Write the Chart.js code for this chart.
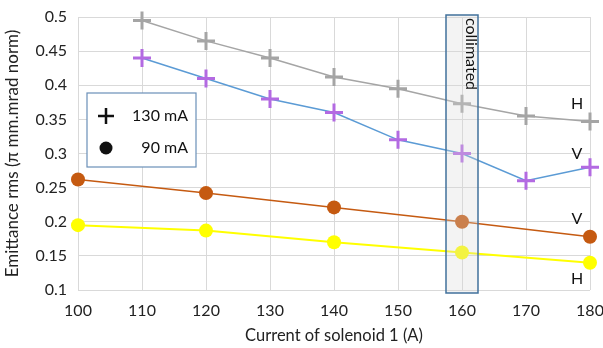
<!DOCTYPE html>
<html>
<head>
<meta charset="utf-8">
<script src="https://cdn.jsdelivr.net/npm/chart.js@4/dist/chart.umd.min.js"></script>
<style>
  html, body { margin: 0; padding: 0; background: #ffffff; }
  #wrap { width: 603px; height: 348px; position: relative; }
</style>
</head>
<body>
<div id="wrap"><canvas id="emitChart" width="603" height="348"></canvas></div>
<script>
  // x values (solenoid current, A)
  const current130 = [110, 120, 130, 140, 150, 160, 170, 180];
  const current90 = [100, 120, 140, 160, 180];

  // 130 mA series
  const h130 = [0.495, 0.465, 0.44, 0.412, 0.395, 0.373, 0.355, 0.347];
  const v130 = [0.44, 0.41, 0.38, 0.36, 0.32, 0.30, 0.26, 0.28];

  // 90 mA series
  const v90 = [0.262, 0.242, 0.221, 0.200, 0.178];
  const h90 = [0.195, 0.187, 0.170, 0.155, 0.140];

  // right-side labels (text, y value)
  const sideLabels = [['H', 0.373], ['V', 0.299], ['V', 0.204], ['H', 0.116]];
  const collimatedAt = 160;

  const FONT = 'Lato, "Open Sans", sans-serif';

  function pts(xs, ys) {
    return xs.map((x, i) => ({ x, y: ys[i] }));
  }

  const overlay = {
    id: 'overlay',
    afterDatasetsDraw(chart) {
      const { ctx, scales: { x, y } } = chart;
      ctx.save();
      // collimated box
      const cx = x.getPixelForValue(collimatedAt);
      const bx = cx - 16, bw = 32, by = y.top - 2, bh = y.bottom - y.top + 5;
      ctx.fillStyle = 'rgba(215,215,215,0.3)';
      ctx.fillRect(bx, by, bw, bh);
      ctx.strokeStyle = '#41719c';
      ctx.lineWidth = 1.5;
      ctx.strokeRect(bx, by, bw, bh);
      ctx.save();
      ctx.translate(cx + 9, by + 3);
      ctx.rotate(Math.PI / 2);
      ctx.fillStyle = '#111';
      ctx.font = '16px ' + FONT;
      ctx.textAlign = 'left';
      ctx.textBaseline = 'middle';
      ctx.fillText('collimated', 0, 0);
      ctx.restore();

      // side labels
      ctx.fillStyle = '#111';
      ctx.font = '16px ' + FONT;
      ctx.textAlign = 'center';
      ctx.textBaseline = 'middle';
      sideLabels.forEach(([t, v]) => {
        ctx.fillText(t, x.getPixelForValue(180) - 13, y.getPixelForValue(v));
      });

      // legend box
      ctx.fillStyle = '#ffffff';
      ctx.fillRect(87, 93, 109, 74);
      ctx.strokeStyle = '#6a8fb8';
      ctx.lineWidth = 1.2;
      ctx.strokeRect(87, 93, 109, 74);
      ctx.strokeStyle = '#111';
      ctx.lineWidth = 2.5;
      ctx.beginPath();
      ctx.moveTo(98, 116); ctx.lineTo(114, 116);
      ctx.moveTo(106, 108); ctx.lineTo(106, 124);
      ctx.stroke();
      ctx.fillStyle = '#111';
      ctx.beginPath();
      ctx.arc(106, 148, 6.5, 0, Math.PI * 2);
      ctx.fill();
      ctx.font = '16px ' + FONT;
      ctx.textAlign = 'right';
      ctx.fillText('130 mA', 188, 116);
      ctx.fillText('90 mA', 188, 148);
      ctx.restore();
    }
  };

  new Chart(document.getElementById('emitChart'), {
    type: 'line',
    data: {
      datasets: [
        {
          label: 'H 130 mA', data: pts(current130, h130), clip: false,
          borderColor: '#a5a5a5', borderWidth: 1.5,
          pointStyle: 'cross', pointRadius: 9, pointBorderWidth: 3,
          pointBorderColor: '#a5a5a5', pointBackgroundColor: '#a5a5a5'
        },
        {
          label: 'V 130 mA', data: pts(current130, v130), clip: false,
          borderColor: '#5b9bd5', borderWidth: 1.5,
          pointStyle: 'cross', pointRadius: 9, pointBorderWidth: 3,
          pointBorderColor: '#b36ae2', pointBackgroundColor: '#b36ae2'
        },
        {
          label: 'V 90 mA', data: pts(current90, v90), clip: false,
          borderColor: '#c55a11', borderWidth: 1.5,
          pointStyle: 'circle', pointRadius: 7, pointBorderWidth: 0,
          pointBackgroundColor: '#c55a11'
        },
        {
          label: 'H 90 mA', data: pts(current90, h90), clip: false,
          borderColor: '#ffff00', borderWidth: 2,
          pointStyle: 'circle', pointRadius: 7, pointBorderWidth: 0,
          pointBackgroundColor: '#ffff00'
        }
      ]
    },
    options: {
      responsive: false,
      animation: false,
      layout: { padding: { left: 0, right: 13, top: 17, bottom: 0 } },
      plugins: { legend: { display: false }, tooltip: { enabled: false } },
      scales: {
        x: {
          type: 'linear', min: 100, max: 180,
          afterFit: s => { s.height = 58; s.paddingLeft = 0; s.paddingRight = 0; },
          ticks: { stepSize: 10, padding: 11, color: '#222', font: { size: 16, family: FONT } },
          grid: { color: '#d9d9d9', drawTicks: false },
          border: { display: false },
          title: {
            display: true, text: 'Current of solenoid 1 (A)', color: '#222',
            font: { size: 16.5, family: FONT }, padding: { top: 0, bottom: 2 }
          }
        },
        y: {
          type: 'linear', min: 0.1, max: 0.5,
          afterFit: s => { s.width = 78; s.paddingTop = 0; s.paddingBottom = 0; },
          ticks: { stepSize: 0.05, padding: 11, color: '#222', font: { size: 16, family: FONT },
                   callback: v => Math.round(v * 100) / 100 },
          grid: { color: '#d9d9d9', drawTicks: false },
          border: { display: false },
          title: {
            display: true, text: 'Emittance rms (π mm.mrad norm)', color: '#222',
            font: { size: 17, family: FONT }, padding: { top: 2, bottom: 0 }
          }
        }
      }
    },
    plugins: [overlay]
  });
</script>
</body>
</html>
